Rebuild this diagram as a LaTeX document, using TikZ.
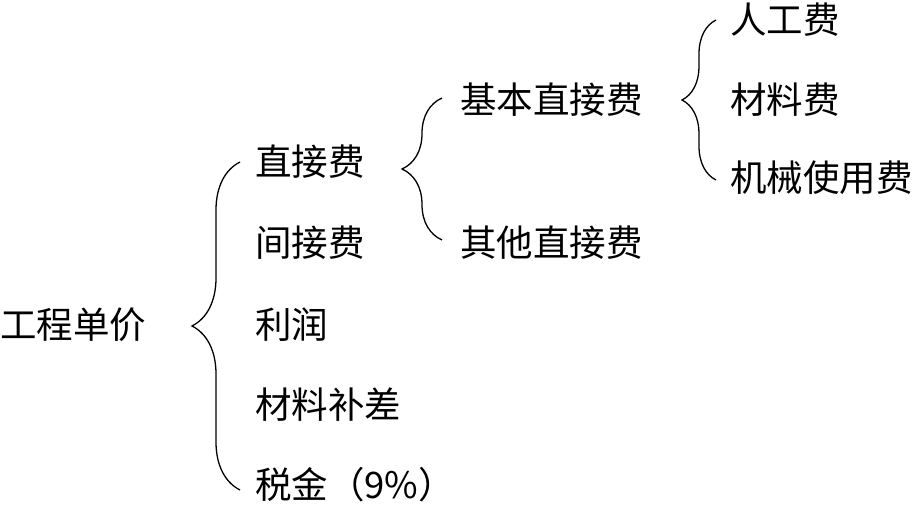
\documentclass[tikz,border=0pt]{standalone}
\usepackage{fontspec}
\setmainfont{Noto Sans CJK SC}
\usetikzlibrary{decorations.pathreplacing}
\begin{document}
\begin{tikzpicture}[x=1pt,y=1pt,
  lbl/.style={anchor=west,inner sep=0pt,font=\fontsize{36.5}{38}\selectfont},
  br/.style={draw,line width=1.3pt,decorate,decoration={brace,amplitude=#1}}]
\useasboundingbox (0,0) rectangle (914,-505);
\node[lbl] (root) at (0,-325) {工程单价};
\node[lbl] (a1) at (255,-162) {直接费};
\node[lbl] (a2) at (255,-243) {间接费};
\node[lbl] (a3) at (255,-325) {利润};
\node[lbl] (a4) at (255,-405) {材料补差};
\node[lbl] (a5) at (255,-485) {税金（9\%）};
\node[lbl] (b1) at (460,-100) {基本直接费};
\node[lbl] (b2) at (460,-243) {其他直接费};
\node[lbl] (c1) at (730,-20) {人工费};
\node[lbl] (c2) at (730,-100) {材料费};
\node[lbl] (c3) at (730,-178) {机械使用费};
\coordinate (p1) at (240,-490); \coordinate (p2) at (240,-162);
\coordinate (q1) at (442,-240); \coordinate (q2) at (442,-98);
\coordinate (r1) at (716,-180); \coordinate (r2) at (716,-20);
\draw[br=48pt] (p1) -- (p2);
\draw[br=40pt] (q1) -- (q2);
\draw[br=34pt] (r1) -- (r2);
\end{tikzpicture}
\end{document}
